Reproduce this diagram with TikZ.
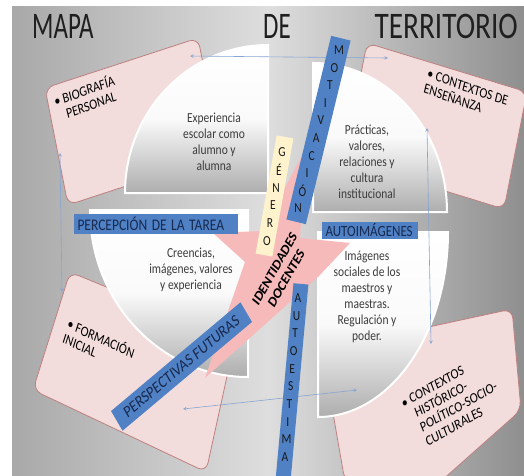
\documentclass[tikz,border=0pt]{standalone}
\usepackage{fontspec}
\setmainfont{Carlito}
\definecolor{boxpink}{RGB}{242,221,220}
\definecolor{boxedge}{RGB}{190,128,128}
\definecolor{starpink}{RGB}{246,186,186}
\definecolor{barblue}{RGB}{79,129,196}
\definecolor{barcream}{RGB}{255,243,205}
\definecolor{navy}{RGB}{24,42,80}
\definecolor{quadtxt}{RGB}{60,60,60}
\definecolor{linkblue}{RGB}{135,165,210}
\tikzset{
  stretch/.style={yscale=1.2, transform shape},
  title/.style={yscale=1.5, transform shape, inner sep=0pt, font=\fontsize{25}{28}\selectfont, text=black!88},
  pinkbox/.style={fill=boxpink, draw=boxedge, line width=0.8pt, rounded corners=9pt},
  quad/.style={draw=white, line width=2pt, top color=white, bottom color=black!32, middle color=black!2},
  bluebar/.style={fill=barblue, inner sep=0pt},
  creambar/.style={fill=barcream, inner sep=0pt},
  quadtext/.style={stretch, align=center, text=quadtxt, font=\fontsize{11.5}{13.3}\selectfont},
  boxtext/.style={stretch, align=left, font=\fontsize{12}{13}\selectfont},
  bartext/.style={text=navy, font=\fontsize{13.5}{15}\selectfont},
  letter/.style={stretch, inner sep=0pt, text=black!90, font=\fontsize{11.5}{12}\selectfont},
  link/.style={draw=linkblue, line width=0.6pt, <->, >=stealth}
}
\begin{document}
\begin{tikzpicture}[x=1pt,y=-1pt]
\useasboundingbox (0,0) rectangle (524,475);
\fill[white] (0,0) rectangle (524,475);
\shade[left color=black!34, right color=black!44, middle color=black!13] (12,6) rectangle (524,475);

\node[title, anchor=base west] (mapa) at (32,38) {MAPA};
\node[title, anchor=base] (de) at (277,38) {DE};
\node[title, anchor=base east, xscale=1.17] (terr) at (518,38) {TERRITORIO};

\draw[pinkbox] (45,88) -- (198,38) -- (221,155) -- (68,205) -- cycle;
\draw[pinkbox] (367,43) -- (527,92) -- (504,209) -- (344,160) -- cycle;
\draw[pinkbox] (70,272) -- (235,340) -- (206,472) -- (33,390) -- cycle;
\draw[pinkbox] (322,350) -- (512,309) -- (521,410) -- (440,482) -- (345,482) -- cycle;

\draw[quad] (268,193) -- (125,193) arc[start angle=180, end angle=270, x radius=143, y radius=148] -- cycle;
\draw[quad] (313,212) -- (313,63) arc[start angle=270, end angle=360, x radius=134, y radius=149] -- cycle;
\draw[quad] (318,232) -- (448,232) arc[start angle=0, end angle=90, x radius=130, y radius=185] -- cycle;
\draw[quad] (248,210) -- (248,377) arc[start angle=90, end angle=180, x radius=158, y radius=167] -- cycle;

\fill[starpink] (306,148) -- (300,238) -- (350,243) -- (318,277) -- (205,378) -- (245,262) -- (213,233) -- (262,231) -- cycle;

\coordinate (topL) at (190,56);
\coordinate (topR) at (388,58);
\coordinate (rightT) at (427,128);
\coordinate (rightB) at (431,344);
\coordinate (botR) at (357,390);
\coordinate (botL) at (183,409);
\coordinate (leftT) at (60,153);
\coordinate (leftB) at (62,292);
\draw[link] (topL) -- (topR);
\draw[link] (rightT) -- (rightB);
\draw[link] (botR) -- (botL);
\draw[link] (leftT) -- (leftB);

\node[creambar, minimum width=17pt, minimum height=120pt, rotate=-10.1] (genbar) at (274.5,196) {};
\node[bluebar, minimum width=20pt, minimum height=189pt, rotate=-13.7] (motbar) at (318.5,130) {};
\node[bluebar, minimum width=15pt, minimum height=197pt, rotate=-5.2] (autbar) at (292,382) {};
\node[bluebar, bartext, stretch, minimum height=17pt, text width=156pt, inner xsep=4pt, align=left] (percep) at (155.5,224) {PERCEPCIÓN DE LA TAREA};
\node[bluebar, bartext, stretch, minimum height=14pt, text width=89pt, inner xsep=3.5pt, align=left, font=\fontsize{13}{15}\selectfont] (autoim) at (370,230.5) {AUTOIMÁGENES};
\node[bluebar, bartext, stretch, rotate=35, minimum width=158pt, minimum height=20pt, font=\fontsize{14}{15}\selectfont] (persp) at (181.5,366.5) {PERSPECTIVAS FUTURAS};

\foreach \ch [count=\i from 0] in {M,O,T,I,V,A,C,I,Ó,N}
{
    \node[letter, name=mot\i] at ({339-4.56*\i},{50+17.6*\i}) {\ch};
}
\foreach \ch [count=\i from 0] in {G,É,N,E,R,O}
{
    \node[letter, name=gen\i] at ({282-3*\i},{152+17.8*\i}) {\ch};
}
\foreach \ch [count=\i from 0] in {A,U,T,O,E,S,T,I,M,A}
{
    \node[letter, name=aut\i] at ({298-1.44*\i},{298+17.67*\i}) {\ch};
}

\node[quadtext] (expe) at (214,142) {Experiencia\\escolar como\\alumno y\\alumna};
\node[quadtext] (prac) at (367,161.5) {Prácticas,\\valores,\\relaciones y\\cultura\\institucional};
\node[quadtext] (cree) at (191,270) {Creencias,\\imágenes, valores\\y experiencia};
\node[quadtext] (imag) at (367,296.5) {Imágenes\\sociales de los\\maestros y\\maestras.\\Regulación y\\poder.};

\node[boxtext, rotate=16.9] (bio) at (86,97.5) {\textbullet\ BIOGRAFÍA\\\hphantom{\textbullet\ }PERSONAL};
\node[boxtext, rotate=-16.2] (ense) at (466,95) {\textbullet\ CONTEXTOS DE\\ENSEÑANZA};
\node[boxtext, rotate=-21.3] (form) at (99,345) {\textbullet\ FORMACIÓN\\INICIAL};
\node[boxtext, rotate=24.8] (hist) at (452,402) {\textbullet\ CONTEXTOS\\\hphantom{\textbullet\ }HISTÓRICO-\\\hphantom{\textbullet\ }POLÍTICO-SOCIO-\\\hphantom{\textbullet\ }CULTURALES};

\node[stretch, rotate=55.8, align=center, font=\fontsize{12.5}{14}\selectfont\bfseries] (ident) at (280.5,273.5) {IDENTIDADES\\DOCENTES};

\end{tikzpicture}
\end{document}
